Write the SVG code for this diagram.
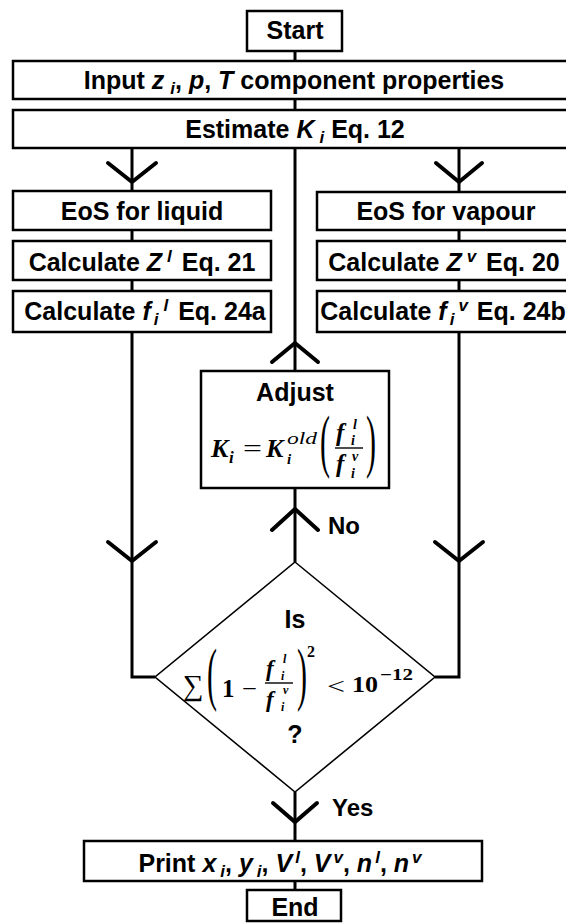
<svg xmlns="http://www.w3.org/2000/svg" width="566" height="923" viewBox="0 0 566 923">
<style>
.box{fill:#fff;stroke:#000;stroke-width:2.5}
.dia{fill:#fff;stroke:#000;stroke-width:1.6}
.ln{fill:none;stroke:#000;stroke-width:3}
.arr{fill:none;stroke:#000;stroke-width:4;stroke-linecap:round;stroke-linejoin:miter}
.t{font-family:"Liberation Sans",Arial,sans-serif;font-weight:bold;font-size:25px;text-anchor:middle;fill:#000}
.lb{font-family:"Liberation Sans",Arial,sans-serif;font-weight:bold;font-size:24px;fill:#000}
.it{font-style:italic}
.m{font-family:"Liberation Serif","DejaVu Serif",serif;font-style:italic;font-weight:bold;fill:#000}
.mi{font-family:"Liberation Serif","DejaVu Serif",serif;font-style:italic;fill:#000}
.mr{font-family:"Liberation Serif","DejaVu Serif",serif;fill:#000}
.mb{font-family:"Liberation Serif","DejaVu Serif",serif;font-weight:bold;fill:#000}
.bar{stroke:#000;stroke-width:1.4}
</style>
<g id="connectors">
<line class="ln" x1="295" y1="51" x2="295" y2="61"/>
<line class="ln" x1="295" y1="99" x2="295" y2="110"/>
<line class="ln" x1="132" y1="148" x2="132" y2="191"/>
<line class="ln" x1="459" y1="148" x2="459" y2="192"/>
<line class="ln" x1="295" y1="148" x2="295" y2="371"/>
<line class="ln" x1="132" y1="230" x2="132" y2="241"/>
<line class="ln" x1="132" y1="280" x2="132" y2="291"/>
<line class="ln" x1="459" y1="230" x2="459" y2="241"/>
<line class="ln" x1="459" y1="280" x2="459" y2="291"/>
<polyline class="ln" points="132,332 132,677 155,677"/>
<polyline class="ln" points="459,332 459,677 435,677"/>
<line class="ln" x1="295" y1="488" x2="295" y2="562"/>
<line class="ln" x1="295" y1="792" x2="295" y2="841"/>
<line class="ln" x1="295" y1="881" x2="295" y2="890"/>
<polyline class="arr" points="108,163 132,182 156,163"/>
<polyline class="arr" points="436,163 459,182 482,163"/>
<polyline class="arr" points="272,362 295,343 318,362"/>
<polyline class="arr" points="272,530 295,509 318,530"/>
<polyline class="arr" points="108,542 132,561 156,542"/>
<polyline class="arr" points="435,542 459,561 483,542"/>
<polyline class="arr" points="273,803 295,822 317,803"/>
<text class="lb" x="328" y="534">No</text>
<text class="lb" x="332" y="816">Yes</text>
</g>
<g id="start">
<rect class="box" x="247" y="11" width="95" height="40"/>
<text class="t" x="295" y="39">Start</text>
</g>
<g id="input">
<rect class="box" x="13" y="61" width="565" height="38"/>
<text class="t" x="294" y="89">Input <tspan class="it">z</tspan><tspan class="it" font-size="17" dx="6" dy="5">i</tspan><tspan dy="-5">, </tspan><tspan class="it">p</tspan>, <tspan class="it">T</tspan> component properties</text>
</g>
<g id="estimate">
<rect class="box" x="13" y="110" width="565" height="38"/>
<text class="t" x="295" y="138">Estimate <tspan class="it">K</tspan><tspan class="it" font-size="17" dx="5" dy="5">i</tspan><tspan dy="-5"> Eq. 12</tspan></text>
</g>
<g id="eos-liquid">
<rect class="box" x="13" y="191" width="258" height="39"/>
<text class="t" x="142" y="220">EoS for liquid</text>
</g>
<g id="calc-z-liquid">
<rect class="box" x="13" y="241" width="258" height="39"/>
<text class="t" x="142" y="271">Calculate <tspan class="it">Z</tspan><tspan class="it" font-size="17" dx="5" dy="-9">l</tspan><tspan dy="9" dx="3"> Eq. 21</tspan></text>
</g>
<g id="calc-f-liquid">
<rect class="box" x="13" y="291" width="258" height="41"/>
<text class="t" x="145" y="320">Calculate <tspan class="it">f</tspan><tspan class="it" font-size="17" dx="3" dy="5">i</tspan><tspan class="it" font-size="17" dx="5" dy="-14">l</tspan><tspan dy="9" dx="3"> Eq. 24a</tspan></text>
</g>
<g id="eos-vapour">
<rect class="box" x="317" y="192" width="260" height="38"/>
<text class="t" x="446" y="220">EoS for vapour</text>
</g>
<g id="calc-z-vapour">
<rect class="box" x="317" y="241" width="260" height="39"/>
<text class="t" x="444" y="271">Calculate <tspan class="it">Z</tspan><tspan class="it" font-size="17" dx="5" dy="-9">v</tspan><tspan dy="9" dx="3"> Eq. 20</tspan></text>
</g>
<g id="calc-f-vapour">
<rect class="box" x="317" y="291" width="260" height="41"/>
<text class="t" x="443" y="320" font-size="24">Calculate <tspan class="it">f</tspan><tspan class="it" font-size="17" dx="3" dy="5">i</tspan><tspan class="it" font-size="17" dx="4" dy="-14">v</tspan><tspan dy="9" dx="2"> Eq. 24b</tspan></text>
</g>
<g id="adjust">
<rect class="box" x="201" y="371" width="188" height="117"/>
<text class="t" x="295" y="401">Adjust</text>
<text class="m" font-size="26" x="211" y="457">K</text>
<text class="m" font-size="17" x="229" y="463">i</text>
<text class="mr" font-size="26" x="243" y="457" textLength="19" lengthAdjust="spacingAndGlyphs">=</text>
<text class="m" font-size="26" x="266" y="457">K</text>
<text class="mi" font-size="16" x="287" y="444" textLength="30" lengthAdjust="spacingAndGlyphs">old</text>
<text class="m" font-size="15" x="287" y="464">i</text>
<text class="mr" font-size="30" transform="translate(320,448) scale(1,2.3)" y="6.9">(</text>
<text class="m" font-size="25" x="336" y="441">f</text>
<text class="m" font-size="14" x="353" y="429">l</text>
<text class="m" font-size="14" x="351" y="445">i</text>
<line class="bar" x1="335" y1="448" x2="363" y2="448"/>
<text class="m" font-size="25" x="336" y="472">f</text>
<text class="m" font-size="14" x="352" y="461">v</text>
<text class="m" font-size="14" x="351" y="478">i</text>
<text class="mr" font-size="30" transform="translate(366,448) scale(1,2.3)" y="6.9">)</text>
</g>
<g id="decision">
<polygon class="dia" points="295,562 435,677 295,792 155,677"/>
<text class="t" x="295" y="628">Is</text>
<text class="mr" font-size="29" x="183" y="695" font-family="DejaVu Serif">∑</text>
<text class="mr" font-size="30" transform="translate(207,681) scale(1,2.3)" y="6.9">(</text>
<text class="mb" font-size="25" x="222" y="697">1</text>
<text class="mr" font-size="22" x="242" y="696" textLength="15" lengthAdjust="spacingAndGlyphs">−</text>
<text class="m" font-size="23" x="266" y="676">f</text>
<text class="m" font-size="12" x="283" y="663">l</text>
<text class="m" font-size="12" x="281" y="680">i</text>
<line class="bar" x1="265" y1="683" x2="293" y2="683"/>
<text class="m" font-size="23" x="266" y="707">f</text>
<text class="m" font-size="12" x="283" y="694">v</text>
<text class="m" font-size="12" x="281" y="711">i</text>
<text class="mr" font-size="30" transform="translate(297,681) scale(1,2.3)" y="6.9">)</text>
<text class="mb" font-size="16" x="307" y="657">2</text>
<text class="mr" font-size="24" x="327" y="694" textLength="18" lengthAdjust="spacingAndGlyphs">&lt;</text>
<text class="mb" font-size="23" x="352" y="692" textLength="26" lengthAdjust="spacingAndGlyphs">10</text>
<text class="mb" font-size="16" x="380" y="680" textLength="33" lengthAdjust="spacingAndGlyphs">−12</text>
<text class="t" x="295" y="743">?</text>
</g>
<g id="print">
<rect class="box" x="84" y="841" width="398" height="40"/>
<text class="t" x="280" y="872">Print <tspan class="it">x</tspan><tspan class="it" font-size="17" dx="4" dy="5">i</tspan><tspan dy="-5">, </tspan><tspan class="it">y</tspan><tspan class="it" font-size="17" dx="4" dy="5">i</tspan><tspan dy="-5">, </tspan><tspan class="it">V</tspan><tspan class="it" font-size="17" dx="3" dy="-9">l</tspan><tspan dy="9">, </tspan><tspan class="it">V</tspan><tspan class="it" font-size="17" dx="3" dy="-9">v</tspan><tspan dy="9">, </tspan><tspan class="it">n</tspan><tspan class="it" font-size="17" dx="3" dy="-9">l</tspan><tspan dy="9">, </tspan><tspan class="it">n</tspan><tspan class="it" font-size="17" dx="3" dy="-9">v</tspan></text>
</g>
<g id="end">
<rect class="box" x="247" y="890" width="94" height="31"/>
<text class="t" x="295" y="916">End</text>
</g>
</svg>
